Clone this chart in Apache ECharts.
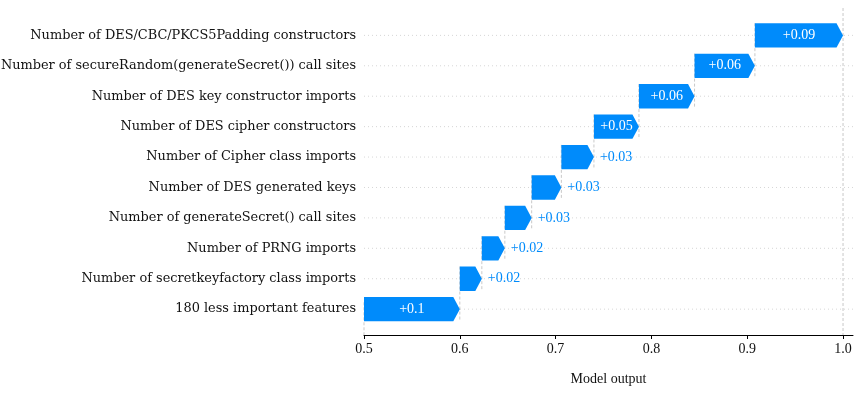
<!DOCTYPE html>
<html>
<head>
<meta charset="utf-8">
<script src="https://cdn.jsdelivr.net/npm/echarts@6/dist/echarts.min.js"></script>
<style>
  html, body { margin: 0; background: #fff; }
  #chart { width: 861px; height: 393px; }
</style>
</head>
<body>
<div id="chart"></div>
<script>
// features, top row first
const features = [
  'Number of DES/CBC/PKCS5Padding constructors',
  'Number of secureRandom(generateSecret()) call sites',
  'Number of DES key constructor imports',
  'Number of DES cipher constructors',
  'Number of Cipher class imports',
  'Number of DES generated keys',
  'Number of generateSecret() call sites',
  'Number of PRNG imports',
  'Number of secretkeyfactory class imports',
  '180 less important features'
]
const shapValues = [0.092, 0.063, 0.058, 0.047, 0.034, 0.031, 0.028, 0.024, 0.023, 0.1]
const baseValue = 0.5
const xTicks = [0.5, 0.6, 0.7, 0.8, 0.9, 1.0]

const BLUE = '#008bfb'
const n = features.length

// build waterfall rows from the bottom up (y = 0 is the last feature)
const rows = []
let acc = baseValue
for (let i = n - 1; i >= 0; i--) {
  const start = acc
  acc += shapValues[i]
  rows.push([start, acc, n - 1 - i, shapValues[i]])
}
const yMin = -0.85, yMax = 9.9

const fmt = v => '+' + String(Number(v.toFixed(2)))

function renderArrow(params, api) {
  const x0 = api.value(0), x1 = api.value(1), k = api.value(2), v = api.value(3)
  const a = api.coord([x0, k]), b = api.coord([x1, k])
  const half = api.size([0, 0.8])[1] / 2
  const w = b[0] - a[0]
  const head = Math.min(6.5, w)
  const top = a[1] - half, bot = a[1] + half
  const cs = params.coordSys
  const children = []

  // dotted row gridline
  children.push({
    type: 'line', z2: 0,
    shape: { x1: cs.x, y1: a[1], x2: cs.x + cs.width, y2: a[1] },
    style: { stroke: '#cccccc', lineWidth: 0.8, lineDash: [1, 3] }
  })
  // dashed connector at the end of this bar
  const vTop = k === n - 1 ? cs.y : api.coord([x1, k + 1.4])[1]
  const vBot = k === n - 1 ? cs.y + cs.height : api.coord([x1, k - 0.4])[1]
  children.push({
    type: 'line', z2: 0,
    shape: { x1: b[0], y1: vTop, x2: b[0], y2: vBot },
    style: { stroke: '#bbbbbb', lineWidth: 0.8, lineDash: [3, 2] }
  })
  if (k === 0) {
    const bTop = api.coord([x0, yMin + (yMax - yMin) / n])[1]
    children.push({
      type: 'line', z2: 0,
      shape: { x1: a[0], y1: bTop, x2: a[0], y2: cs.y + cs.height },
      style: { stroke: '#bbbbbb', lineWidth: 0.8, lineDash: [3, 2] }
    })
  }

  // arrow
  children.push({
    type: 'polygon', z2: 10,
    shape: { points: [[a[0], top], [b[0] - head, top], [b[0], a[1]], [b[0] - head, bot], [a[0], bot]] },
    style: { fill: BLUE, stroke: null }
  })

  // value label
  const inside = w > 40
  children.push({
    type: 'text', z2: 20,
    x: inside ? (a[0] + b[0]) / 2 : b[0] + 6,
    y: a[1],
    style: {
      text: fmt(v),
      fill: inside ? '#fff' : BLUE,
      font: '14px "Liberation Serif"',
      align: inside ? 'center' : 'left',
      verticalAlign: 'middle'
    }
  })
  return { type: 'group', children }
}

const chart = echarts.init(document.getElementById('chart'))
chart.setOption({
  animation: false,
  grid: { left: 364, right: 8, top: 8, bottom: 58, outerBoundsMode: 'none', containLabel: false },
  xAxis: {
    type: 'value',
    min: 0.5,
    max: 1.0104,
    name: 'Model output',
    nameLocation: 'middle',
    nameGap: 37,
    nameTextStyle: { fontFamily: 'Liberation Serif', fontSize: 14, color: '#111' },
    axisLine: { show: true, onZero: false, lineStyle: { color: '#000', width: 1 } },
    axisTick: { show: true, length: 4, customValues: xTicks, lineStyle: { color: '#000' } },
    axisLabel: {
      customValues: xTicks,
      margin: 7,
      formatter: v => v.toFixed(1),
      fontFamily: 'Liberation Serif', fontSize: 14, color: '#111'
    },
    splitLine: { show: false }
  },
  yAxis: {
    type: 'value',
    min: yMin,
    max: yMax,
    axisLine: { show: false },
    axisTick: { show: false },
    splitLine: { show: false },
    axisLabel: {
      customValues: features.map((_, i) => i),
      formatter: v => features[n - 1 - v],
      margin: 8,
      fontFamily: 'DejaVu Serif', fontSize: 12.9, color: '#111'
    }
  },
  series: [{
    type: 'custom',
    renderItem: renderArrow,
    clip: false,
    encode: { x: [0, 1], y: 2 },
    data: rows
  }]
})
</script>
</body>
</html>
